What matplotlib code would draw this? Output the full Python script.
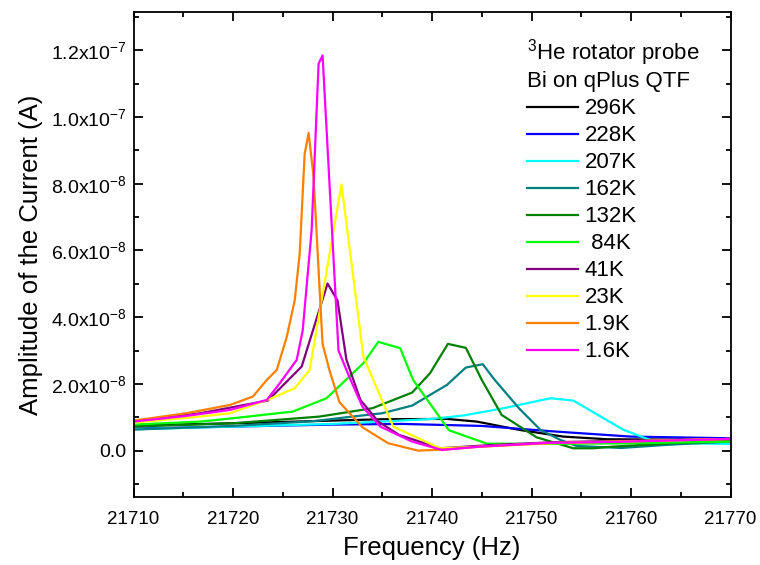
import math
import matplotlib
matplotlib.use("Agg")
import matplotlib.pyplot as plt
from matplotlib.ticker import MultipleLocator, FuncFormatter

plt.rcParams['font.family'] = ['Liberation Sans', 'DejaVu Sans']
plt.rcParams['mathtext.fontset'] = 'custom'
plt.rcParams['mathtext.rm'] = 'Liberation Sans'
plt.rcParams['mathtext.it'] = 'Liberation Sans:italic'

# amplitudes in units of 1e-8 A
f_296 = [21710, 21720, 21730, 21735, 21741.5, 21744.5, 21748.8, 21753.2, 21757.6, 21770]
a_296 = [0.75, 0.82, 0.9, 0.94, 0.95, 0.87, 0.62, 0.42, 0.34, 0.32]

f_228 = [21710, 21720, 21730, 21737, 21745, 21752, 21760, 21770]
a_228 = [0.66, 0.72, 0.78, 0.8, 0.74, 0.58, 0.42, 0.37]

f_207 = [21710, 21720, 21730, 21735, 21740, 21743.1, 21747.2, 21751.9, 21754.2, 21759.2, 21761.9, 21765.6, 21770]
a_207 = [0.64, 0.72, 0.8, 0.87, 0.95, 1.05, 1.27, 1.57, 1.5, 0.63, 0.32, 0.22, 0.2]

f_162 = [21710, 21720, 21728, 21732, 21735, 21738, 21741.5, 21743.4, 21745.1, 21746.3, 21748.8, 21750.9,
         21752.9, 21754.5, 21759, 21764, 21770]
a_162 = [0.63, 0.74, 0.88, 1.02, 1.12, 1.35, 1.97, 2.49, 2.59, 2.12, 1.25, 0.62, 0.32, 0.14, 0.08, 0.18, 0.27]

f_132 = [21710, 21720, 21728.7, 21734, 21738, 21739.8, 21741.6, 21743.4, 21745, 21747, 21750.5, 21754.2,
         21756.2, 21758.2, 21764, 21770]
a_132 = [0.72, 0.82, 1.02, 1.27, 1.74, 2.32, 3.2, 3.08, 2.12, 1.07, 0.4, 0.07, 0.07, 0.12, 0.22, 0.3]

f_84 = [21710, 21716.7, 21720, 21726, 21729.4, 21733.1, 21734.6, 21736.8, 21738.1, 21741.7, 21745.5,
        21751.5, 21760, 21770]
a_84 = [0.78, 0.87, 0.97, 1.17, 1.57, 2.62, 3.26, 3.07, 2.12, 0.61, 0.21, 0.2, 0.22, 0.27]

f_41 = [21710, 21716.7, 21723.5, 21726.9, 21729.5, 21730.5, 21731.4, 21732.8, 21734.6, 21736.7, 21740.8,
        21745, 21752, 21760, 21770]
a_41 = [0.87, 1.12, 1.5, 2.52, 5.01, 4.5, 2.72, 1.52, 0.87, 0.47, 0.07, 0.15, 0.25, 0.3, 0.35]

f_23 = [21710, 21716.7, 21719.7, 21723.7, 21726.2, 21727.7, 21730.9, 21733.1, 21736.1, 21740.8, 21745,
        21752, 21760, 21770]
a_23 = [0.84, 1.02, 1.12, 1.55, 1.87, 2.42, 7.98, 2.82, 0.72, 0.07, 0.12, 0.22, 0.28, 0.35]

f_19 = [21710, 21715.3, 21719.7, 21722, 21723.4, 21724.4, 21725.4, 21726.2, 21726.7, 21727.2, 21727.6,
        21728.1, 21728.6, 21729.0, 21729.7, 21730.7, 21733, 21735.6, 21738.6, 21741, 21745, 21752, 21760, 21770]
a_19 = [0.9, 1.12, 1.37, 1.62, 2.12, 2.42, 3.41, 4.5, 5.9, 8.9, 9.52, 8.2, 5.4, 3.2, 2.4, 1.45, 0.7, 0.22,
        0.0, 0.03, 0.12, 0.23, 0.28, 0.35]

f_16 = [21710, 21715.3, 21719.7, 21723.4, 21724.7, 21726.4, 21727.0, 21727.9, 21728.6, 21729.0, 21730.6,
        21731.7, 21733.0, 21734.8, 21738.0, 21741.0, 21744.8, 21751.5, 21758.2, 21770]
a_16 = [0.87, 1.04, 1.22, 1.52, 2.02, 2.72, 3.6, 6.6, 11.6, 11.85, 3.0, 2.2, 1.32, 0.72, 0.27, 0.02, 0.12,
        0.23, 0.26, 0.35]

freqs = [f_296, f_228, f_207, f_162, f_132, f_84, f_41, f_23, f_19, f_16]
amps = [a_296, a_228, a_207, a_162, a_132, a_84, a_41, a_23, a_19, a_16]
labels = ['296K', '228K', '207K', '162K', '132K', ' 84K', '41K', '23K', '1.9K', '1.6K']
colors = ['#000000', '#0000ff', '#00ffff', '#008080', '#008000', '#00ff00', '#800080', '#ffff00',
          '#ff8000', '#ff00ff']


def sci_label(v, pos):
    if abs(v) < 1e-12:
        return '0.0'
    e = int(math.floor(math.log10(abs(v)) + 1e-9))
    m = v / 10 ** e
    return r'$\mathregular{%.1fx10^{%d}}$' % (m, e)


fig = plt.figure(figsize=(7.6, 5.65), dpi=100)
ax = fig.add_axes([0.1757, 0.1204, 0.7855, 0.8584])

for f, a, lab, c in zip(freqs, amps, labels, colors):
    ax.plot(f, [v * 1e-8 for v in a], color=c, lw=1.6, label=lab)

ax.set_xlim(21710, 21770)
ax.set_ylim(-1.39e-8, 1.315e-7)
ax.xaxis.set_major_locator(MultipleLocator(10))
ax.xaxis.set_minor_locator(MultipleLocator(5))
ax.yaxis.set_major_locator(MultipleLocator(2e-8))
ax.yaxis.set_minor_locator(MultipleLocator(1e-8))
ax.yaxis.set_major_formatter(FuncFormatter(sci_label))

ax.tick_params(which='both', direction='in', top=True, right=True, width=1.3)
ax.tick_params(axis='x', pad=10, labelsize=13.5)
ax.tick_params(axis='y', pad=5, labelsize=14)
ax.tick_params(which='major', length=6.5)
ax.tick_params(which='minor', length=3.5)
for s in ax.spines.values():
    s.set_linewidth(1.3)

ax.set_xlabel('Frequency (Hz)', fontsize=18.5, labelpad=6)
ax.set_ylabel('Amplitude of the Current (A)', fontsize=18.5, labelpad=6)

leg = ax.legend(title='$^{3}$He rotator probe\nBi on qPlus QTF', loc='upper left',
                bbox_to_anchor=(0.659, 0.948), frameon=False, fontsize=16, title_fontsize=16,
                handlelength=2.3, handletextpad=0.3, labelspacing=0.27, borderpad=0,
                borderaxespad=0, alignment='left')

fig.savefig('out.png', dpi=100)
